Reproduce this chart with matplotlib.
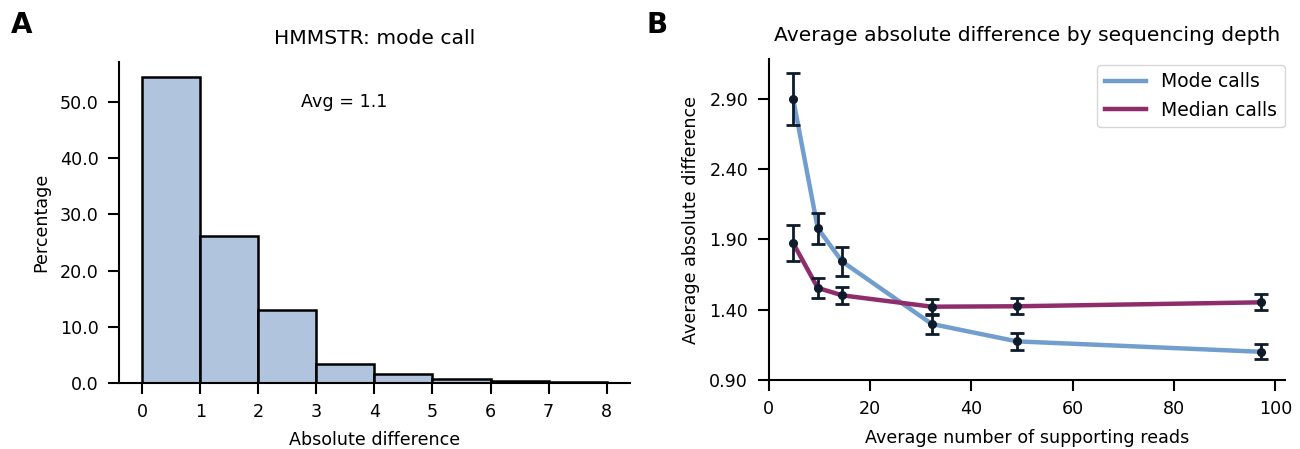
import matplotlib
matplotlib.use("Agg")
import matplotlib.pyplot as plt
import numpy as np
from matplotlib.ticker import FormatStrFormatter

# Panel A data
bin_edges = [0, 1, 2, 3, 4, 5, 6, 7, 8]
percentages = [54.4, 26.1, 12.95, 3.4, 1.56, 0.7, 0.43, 0.2]
avg_label = "Avg = 1.1"

# Panel B data
depth = [4.85, 9.7, 14.5, 32.2, 49.0, 97.1]
mode_vals = [2.90, 1.98, 1.743, 1.298, 1.174, 1.10]
mode_err = [0.185, 0.11, 0.10, 0.07, 0.06, 0.055]
median_vals = [1.874, 1.555, 1.502, 1.421, 1.424, 1.452]
median_err = [0.127, 0.07, 0.062, 0.056, 0.058, 0.057]
b_yticks = [0.90, 1.40, 1.90, 2.40, 2.90]
b_xticks = [0, 20, 40, 60, 80, 100]

plt.rcParams['font.family'] = ['DejaVu Sans']
fig = plt.figure(figsize=(13, 4.49), dpi=100)

axA = fig.add_axes([0.0915, 0.147, 0.393, 0.715])
axB = fig.add_axes([0.5912, 0.154, 0.3973, 0.714])

fs = 12.6
tfs = 14.6
# Panel A
centers = bin_edges[:-1]
axA.hist(centers, bins=bin_edges, weights=percentages, color='#b0c4de',
         edgecolor='black', linewidth=1.8)
axA.set_xticks(bin_edges)
axA.yaxis.set_major_formatter(FormatStrFormatter('%.1f'))
axA.set_yticks([0, 10, 20, 30, 40, 50])
axA.set_xlabel('Absolute difference', fontsize=fs, labelpad=7)
axA.set_ylabel('Percentage', fontsize=fs, labelpad=7)
axA.set_title('HMMSTR: mode call', fontsize=tfs, pad=13)
axA.text(3.48, 50, avg_label, ha='center', va='center', fontsize=fs)
axA.tick_params(labelsize=fs, width=1.5, length=7.7, pad=7)
for s in ['top', 'right']:
    axA.spines[s].set_visible(False)
for s in ['left', 'bottom']:
    axA.spines[s].set_linewidth(1.5)

# Panel B
axB.plot(depth, mode_vals, color='#729ece', linewidth=3.2, label='Mode calls')
axB.plot(depth, median_vals, color='#8e2c6c', linewidth=3.2, label='Median calls')
axB.errorbar(depth, mode_vals, yerr=mode_err, fmt='o', color='#0d1b2a',
             markersize=5.5, capsize=5, elinewidth=2, capthick=2)
axB.errorbar(depth, median_vals, yerr=median_err, fmt='o', color='#0d1b2a',
             markersize=5.5, capsize=5, elinewidth=2, capthick=2)
axB.set_ylim(0.9, 3.183)
axB.set_xlim(0, 101.9)
axB.set_yticks(b_yticks)
axB.set_xticks(b_xticks)
axB.yaxis.set_major_formatter(FormatStrFormatter('%.2f'))
axB.set_xlabel('Average number of supporting reads', fontsize=fs, labelpad=8)
axB.set_ylabel('Average absolute difference', fontsize=fs, labelpad=7)
axB.set_title('Average absolute difference by sequencing depth', fontsize=tfs, pad=13)
axB.tick_params(labelsize=fs, width=1.5, length=7.7, pad=7)
for s in ['top', 'right']:
    axB.spines[s].set_visible(False)
for s in ['left', 'bottom']:
    axB.spines[s].set_linewidth(1.5)
axB.legend(loc='upper right', bbox_to_anchor=(1.01, 1.0), borderaxespad=0.3,
           fontsize=13.5, frameon=True, handlelength=2.2)

fig.text(0.008, 0.945, 'A', fontsize=20, fontweight='bold', ha='left', va='center')
fig.text(0.497, 0.945, 'B', fontsize=20, fontweight='bold', ha='left', va='center')

fig.savefig('out.png', dpi=100)
